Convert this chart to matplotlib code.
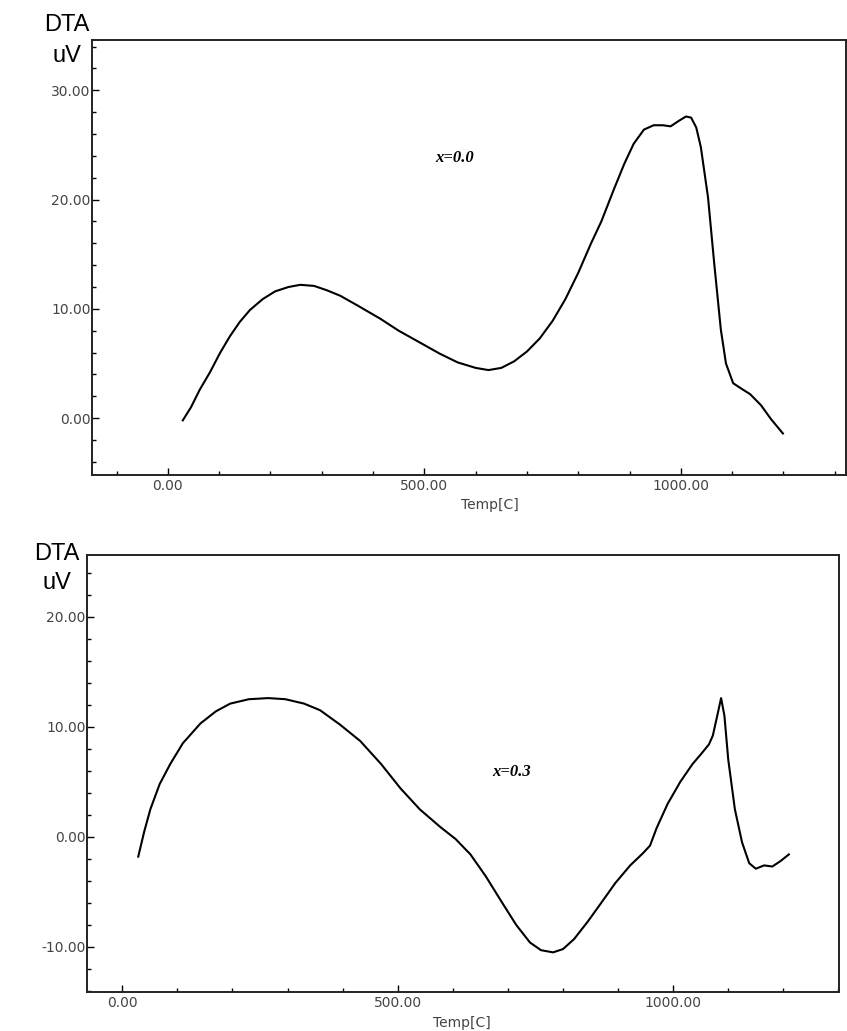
import numpy as np
import matplotlib
matplotlib.use("Agg")
import matplotlib.pyplot as plt
from matplotlib.ticker import MultipleLocator, FormatStrFormatter

# x = 0.0 sample
temp_a = [29, 45, 62, 82, 102, 121, 140, 160, 185, 209, 235, 258, 285, 310, 336,
          370, 414, 450, 492, 530, 565, 600, 625, 650, 675, 700, 725, 750, 775,
          800, 825, 845, 870, 890, 908, 928, 947, 965, 980, 996, 1010, 1020, 1030,
          1039, 1053, 1065, 1078, 1088, 1102, 1118, 1135, 1156, 1176, 1199]
dta_a = [-0.2, 1.0, 2.6, 4.2, 6.0, 7.5, 8.8, 9.9, 10.9, 11.6, 12.0, 12.2, 12.1,
         11.7, 11.2, 10.3, 9.1, 8.0, 6.9, 5.9, 5.1, 4.6, 4.4, 4.6, 5.2, 6.1, 7.3,
         8.9, 10.9, 13.3, 16.0, 18.0, 21.0, 23.3, 25.1, 26.4, 26.8, 26.8, 26.7,
         27.2, 27.6, 27.5, 26.6, 24.8, 20.2, 14.2, 8.1, 5.0, 3.2, 2.7, 2.2, 1.2,
         -0.1, -1.4]

# x = 0.3 sample
temp_b = [29, 40, 51, 68, 87, 110, 142, 170, 196, 230, 265, 296, 330, 359, 395,
          432, 470, 505, 540, 577, 605, 632, 660, 686, 715, 740, 760, 782, 800,
          820, 845, 868, 895, 922, 945, 958, 970, 990, 1013, 1035, 1052, 1065,
          1072, 1080, 1087, 1093, 1100, 1112, 1125, 1138, 1150, 1165, 1180, 1195,
          1210]
dta_b = [-1.8, 0.5, 2.5, 4.8, 6.6, 8.5, 10.3, 11.4, 12.1, 12.5, 12.6, 12.5, 12.1,
         11.5, 10.2, 8.7, 6.6, 4.4, 2.5, 0.9, -0.2, -1.6, -3.6, -5.7, -8.0, -9.6,
         -10.3, -10.5, -10.2, -9.3, -7.7, -6.1, -4.2, -2.6, -1.5, -0.8, 0.8, 3.0,
         5.0, 6.6, 7.6, 8.4, 9.2, 11.0, 12.6, 11.0, 7.0, 2.5, -0.5, -2.4, -2.9,
         -2.6, -2.7, -2.2, -1.6]

W, H = 847, 1031
fig = plt.figure(figsize=(W / 100, H / 100), dpi=100)


def px_box(l, t, r, b):
    return [l / W, 1 - b / H, (r - l) / W, (b - t) / H]


def style(ax, xlim, ylim):
    ax.set_xlim(*xlim)
    ax.set_ylim(*ylim)
    ax.xaxis.set_major_locator(MultipleLocator(500))
    ax.xaxis.set_minor_locator(MultipleLocator(100))
    ax.yaxis.set_major_locator(MultipleLocator(10))
    ax.yaxis.set_minor_locator(MultipleLocator(2))
    ax.xaxis.set_major_formatter(FormatStrFormatter("%.2f"))
    ax.yaxis.set_major_formatter(FormatStrFormatter("%.2f"))
    ax.tick_params(which="both", direction="in", top=False, right=False,
                   labelsize=10, labelcolor="#444444", width=1.0)
    ax.tick_params(which="major", length=5, pad=3)
    ax.tick_params(axis="y", which="major", pad=1)
    ax.tick_params(which="minor", length=3)
    for s in ax.spines.values():
        s.set_linewidth(1.4)
        s.set_color("#222222")


ax1 = fig.add_axes(px_box(92, 40, 846, 475))
ax1.plot(temp_a, dta_a, color="black", lw=1.5)
style(ax1, (-148, 1322), (-5.2, 34.6))

ax2 = fig.add_axes(px_box(87, 555, 839, 992))
ax2.plot(temp_b, dta_b, color="black", lw=1.5)
style(ax2, (-64, 1301), (-14.1, 25.6))


def ftext(x, y, s, **kw):
    fig.text(x / W, 1 - y / H, s, ha="center", va="center", **kw)


ftext(67, 25, "DTA", fontsize=17, family="Liberation Sans")
ftext(67, 56, "uV", fontsize=17, family="Liberation Sans")
ftext(57, 554, "DTA", fontsize=17, family="Liberation Sans")
ftext(57, 583, "uV", fontsize=17, family="Liberation Sans")

ftext(490, 505, "Temp[C]", fontsize=10, color="#444444")
ftext(462, 1023, "Temp[C]", fontsize=10, color="#444444")

ftext(455, 158, "x=0.0", fontsize=12, family="Liberation Serif",
      weight="bold", style="italic")
ftext(512, 772, "x=0.3", fontsize=12, family="Liberation Serif",
      weight="bold", style="italic")

fig.savefig("out.png", dpi=100)
